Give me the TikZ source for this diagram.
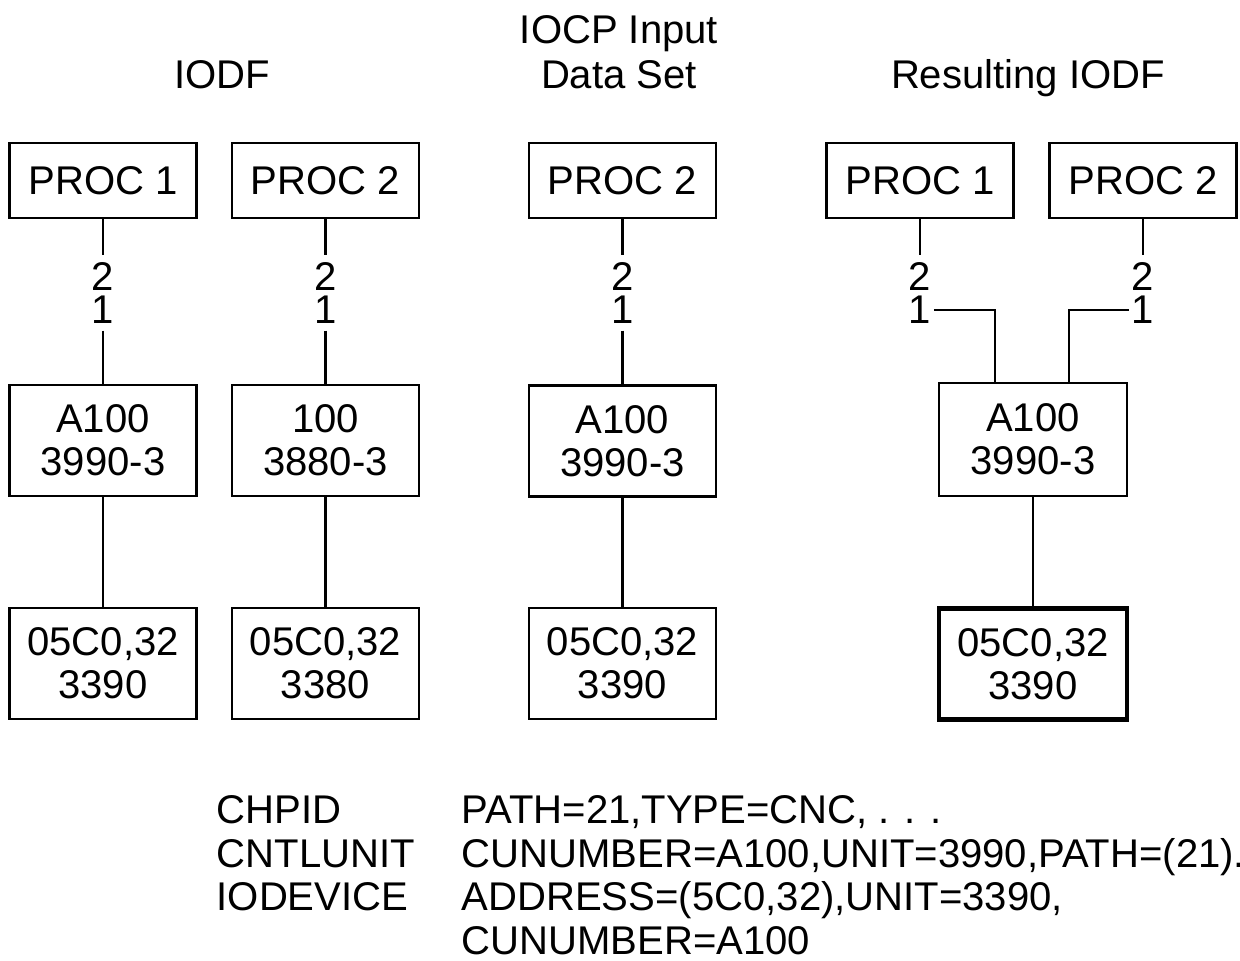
\documentclass[tikz,border=0pt]{standalone}
\usepackage{fontspec}
\setmainfont{Liberation Sans}
\usetikzlibrary{calc}
\tikzset{
	unitbox/.style={draw, line width=0.8pt, minimum width=1.87cm, inner sep=0pt, align=center},
	procbox/.style={unitbox, minimum height=0.75cm},
	cubox/.style={unitbox, minimum height=1.11cm},
	chan/.style={inner xsep=0.02cm, inner ysep=0.01cm},
	wire/.style={line width=0.8pt},
	stmt/.style={anchor=base west, inner sep=0pt},
	heading/.style={anchor=base, inner sep=0pt},
}

\begin{document}
\begin{tikzpicture}[every node/.style={font=\fontsize{11.4}{12.3}\selectfont}]
			%%%%% START %%%%%
			\useasboundingbox (0, 0) rectangle (12.4, -9.6);
			
			\node[heading] (hiodf) at (2.22, -0.88) {IODF};
			\node[heading] (hiocpa) at (6.19, -0.43) {IOCP Input};
			\node[heading] (hiocpb) at (6.19, -0.88) {Data Set};
			\node[heading] (hres) at (10.28, -0.88) {Resulting IODF};
			
			% IODF
			\node[procbox] (iproca) at (1.03, -1.805) {PROC 1};
			\node[procbox] (iprocb) at (3.255, -1.805) {PROC 2};
			\node[chan] (ia2) at (1.03, -2.76) {2};
			\node[chan] (ia1) at (1.03, -3.10) {1};
			\node[chan] (ib2) at (3.255, -2.76) {2};
			\node[chan] (ib1) at (3.255, -3.10) {1};
			\node[cubox] (icua) at (1.03, -4.405) {A100\\3990-3};
			\node[cubox] (icub) at (3.255, -4.405) {100\\3880-3};
			\node[cubox] (idva) at (1.03, -6.635) {05C0,32\\3390};
			\node[cubox] (idvb) at (3.255, -6.635) {05C0,32\\3380};
			
			\draw[wire, shorten >=0.05cm] (iproca.south) -- (ia2.north);
			\draw[wire, shorten <=0.05cm] (ia1.south) -- (icua.north);
			\draw[wire] (icua.south) -- (idva.north);
			\draw[wire, shorten >=0.05cm] (iprocb.south) -- (ib2.north);
			\draw[wire, shorten <=0.05cm] (ib1.south) -- (icub.north);
			\draw[wire] (icub.south) -- (idvb.north);
			
			% IOCP input
			\node[procbox] (cproc) at (6.225, -1.805) {PROC 2};
			\node[chan] (c2) at (6.225, -2.76) {2};
			\node[chan] (c1) at (6.225, -3.10) {1};
			\node[cubox] (ccu) at (6.225, -4.41) {A100\\3990-3};
			\node[cubox] (cdv) at (6.225, -6.635) {05C0,32\\3390};
			
			\draw[wire, shorten >=0.05cm] (cproc.south) -- (c2.north);
			\draw[wire, shorten <=0.05cm] (c1.south) -- (ccu.north);
			\draw[wire] (ccu.south) -- (cdv.north);
			
			% resulting IODF
			\node[procbox] (rproca) at (9.20, -1.805) {PROC 1};
			\node[procbox] (rprocb) at (11.43, -1.805) {PROC 2};
			\node[chan] (ra2) at (9.20, -2.76) {2};
			\node[chan] (ra1) at (9.20, -3.10) {1};
			\node[chan] (rb2) at (11.43, -2.76) {2};
			\node[chan] (rb1) at (11.43, -3.10) {1};
			\node[cubox, minimum width=1.88cm, minimum height=1.13cm] (rcu) at (10.33, -4.395) {A100\\3990-3};
			\node[cubox, minimum width=1.88cm, line width=1.2pt] (rdv) at (10.33, -6.64) {05C0,32\\3390};
			
			\draw[wire, shorten >=0.05cm] (rproca.south) -- (ra2.north);
			\draw[wire, shorten >=0.05cm] (rprocb.south) -- (rb2.north);
			\draw[wire] (ra1.east) -| ([xshift=-0.38cm]rcu.north);
			\draw[wire] (rb1.west) -| ([xshift=0.36cm]rcu.north);
			\draw[wire] (rcu.south) -- (rdv.north);
			
			% statements
			\node[stmt] (kwchp) at (2.16, -8.23) {CHPID};
			\node[stmt] (kwcu) at (2.16, -8.67) {CNTLUNIT};
			\node[stmt] (kwio) at (2.16, -9.10) {IODEVICE};
			\node[stmt] (opchp) at (4.61, -8.23) {PATH=21,TYPE=CNC, . . .};
			\node[stmt] (opcu) at (4.61, -8.67) {CUNUMBER=A100,UNIT=3990,PATH=(21).};
			\node[stmt] (opio) at (4.61, -9.10) {ADDRESS=(5C0,32),UNIT=3390,};
			\node[stmt] (opiob) at (4.61, -9.54) {CUNUMBER=A100};
			
			%%%%% END %%%%%
\end{tikzpicture}
\end{document}
